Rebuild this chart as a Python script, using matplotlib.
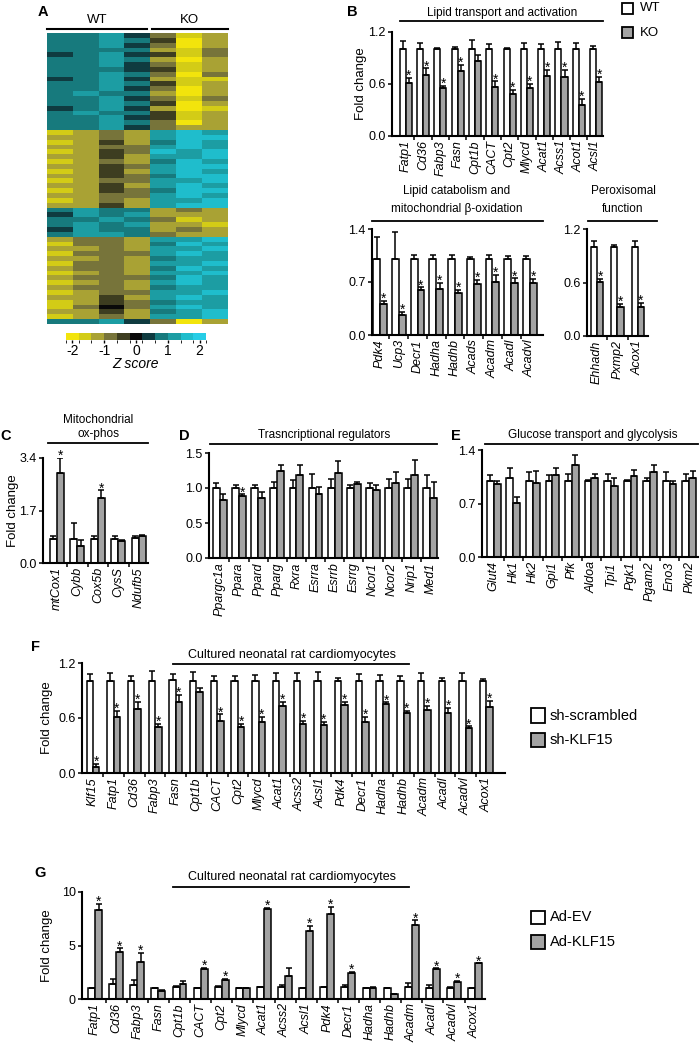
import numpy as np
import matplotlib
matplotlib.use('Agg')
import matplotlib.pyplot as plt
from matplotlib.colors import ListedColormap, BoundaryNorm
from matplotlib.cm import ScalarMappable
from matplotlib.patches import Rectangle
from matplotlib.lines import Line2D

plt.rcParams['font.family'] = ['Liberation Sans', 'DejaVu Sans']

W, H = 700, 1046
GREY = '#a3a3a3'

# ---------------- A: heatmap (z-score levels 0..10 -> -2..2) ----------------
heat_rows = [
    "7786312", "7787402", "7786302", "7777213", "6786413", "7787202", "7786312",
    "7776412", "7787303", "6786211", "7787412", "7786302", "7877202", "7786313",
    "7787402", "6786201", "7877412", "7786412", "7787302", "7786322",
    "1232898", "2232899", "1242798", "2233898", "1243989", "2242889", "1232798",
    "2243899", "1242898", "2243799", "1233889", "2242898", "1243799", "2233898",
    "1232889", "2242899",
    "7877232", "6878222", "7787312", "7878221", "6877232", "7887322",
    "2332889", "1332798", "2232889", "1333898", "2232788", "1332889", "2332798",
    "1232889", "2333798", "1232898", "2332788", "1233889", "2242898", "1243788",
    "1353898", "2242789", "1232889",
    "7786302",
]
heat_colors = ['#f2e40c', '#d3cc16', '#a9a234', '#77743a', '#3d3d20', '#0a0a0a',
               '#0f3b40', '#177a7d', '#1c9da3', '#1fbdcc', '#26cde6']
z_ticks = [-2, -1, 0, 1, 2]

# ---------------- B: KO vs WT ----------------
b1_genes = ['Fatp1', 'Cd36', 'Fabp3', 'Fasn', 'Cpt1b', 'CACT', 'Cpt2', 'Mlycd',
            'Acat1', 'Acss1', 'Acot1', 'Acsl1']
b1_wt = [1.0] * 12
b1_wt_err = [0.10, 0.07, 0.01, 0.03, 0.11, 0.06, 0.01, 0.07, 0.06, 0.08, 0.07, 0.04]
b1_ko = [0.61, 0.70, 0.55, 0.75, 0.87, 0.56, 0.49, 0.55, 0.69, 0.68, 0.36, 0.62]
b1_ko_err = [0.06, 0.08, 0.03, 0.07, 0.06, 0.07, 0.04, 0.05, 0.07, 0.08, 0.07, 0.06]
b1_stars = [0, 1, 2, 3, 5, 6, 7, 8, 9, 10, 11]

b2_genes = ['Pdk4', 'Ucp3', 'Decr1', 'Hadha', 'Hadhb', 'Acads', 'Acadm', 'Acadl', 'Acadvl']
b2_wt = [1.0] * 9
b2_wt_err = [0.29, 0.36, 0.06, 0.06, 0.06, 0.03, 0.06, 0.05, 0.05]
b2_ko = [0.41, 0.26, 0.59, 0.61, 0.55, 0.67, 0.70, 0.69, 0.69]
b2_ko_err = [0.04, 0.05, 0.04, 0.08, 0.05, 0.06, 0.09, 0.06, 0.05]
b2_stars = list(range(9))

b3_genes = ['Ehhadh', 'Pxmp2', 'Acox1']
b3_wt = [1.0, 1.0, 1.0]
b3_wt_err = [0.06, 0.02, 0.06]
b3_ko = [0.61, 0.33, 0.33]
b3_ko_err = [0.03, 0.03, 0.04]
b3_stars = [0, 1, 2]

# ---------------- C: mitochondrial ox-phos ----------------
c_genes = ['mtCox1', 'Cybb', 'Cox5b', 'CysS', 'Ndufb5']
c_wt = [0.78, 0.78, 0.78, 0.78, 0.80]
c_wt_err = [0.10, 0.50, 0.08, 0.10, 0.08]
c_ko = [2.90, 0.56, 2.12, 0.70, 0.86]
c_ko_err = [0.50, 0.19, 0.23, 0.05, 0.06]
c_stars = [0, 2]

# ---------------- D: transcriptional regulators ----------------
d_genes = ['Ppargc1a', 'Ppara', 'Ppard', 'Pparg', 'Rxra', 'Esrra', 'Esrrb', 'Esrrg',
           'Ncor1', 'Ncor2', 'Nrip1', 'Med1']
d_wt = [1.0] * 12
d_wt_err = [0.07, 0.05, 0.05, 0.08, 0.11, 0.20, 0.13, 0.05, 0.07, 0.13, 0.13, 0.19]
d_ko = [0.83, 0.88, 0.86, 1.24, 1.18, 0.91, 1.21, 1.06, 0.97, 1.07, 1.18, 0.86]
d_ko_err = [0.08, 0.03, 0.08, 0.09, 0.15, 0.11, 0.18, 0.03, 0.07, 0.16, 0.22, 0.23]
d_stars = [1]

# ---------------- E: glucose transport and glycolysis ----------------
e_genes = ['Glut4', 'Hk1', 'Hk2', 'Gpi1', 'Pfk', 'Aldoa', 'Tpi1', 'Pgk1', 'Pgam2', 'Eno3', 'Pkm2']
e_wt = [1.0, 1.03, 1.0, 1.0, 1.0, 1.0, 1.0, 1.0, 1.0, 1.0, 1.0]
e_wt_err = [0.07, 0.14, 0.11, 0.07, 0.09, 0.01, 0.09, 0.01, 0.03, 0.11, 0.08]
e_ko = [0.96, 0.71, 0.97, 1.07, 1.20, 1.03, 0.93, 1.06, 1.11, 0.95, 1.03]
e_ko_err = [0.04, 0.08, 0.15, 0.10, 0.13, 0.05, 0.10, 0.08, 0.09, 0.05, 0.09]

# ---------------- F: shRNA in cardiomyocytes ----------------
f_genes = ['Klf15', 'Fatp1', 'Cd36', 'Fabp3', 'Fasn', 'Cpt1b', 'CACT', 'Cpt2', 'Mlycd',
           'Acat1', 'Acss2', 'Acsl1', 'Pdk4', 'Decr1', 'Hadha', 'Hadhb', 'Acadm',
           'Acadl', 'Acadvl', 'Acox1']
f_ctrl = [1.0, 1.0, 1.0, 1.0, 1.01, 1.0, 1.0, 1.0, 1.0, 1.0, 1.0, 1.0, 1.0, 1.0,
          1.0, 1.0, 1.0, 1.0, 1.0, 1.0]
f_ctrl_err = [0.08, 0.09, 0.06, 0.11, 0.07, 0.10, 0.06, 0.06, 0.07, 0.09, 0.09, 0.10,
              0.04, 0.08, 0.07, 0.06, 0.09, 0.04, 0.09, 0.03]
f_sh = [0.065, 0.615, 0.70, 0.50, 0.78, 0.88, 0.57, 0.50, 0.56, 0.73, 0.53, 0.52,
        0.74, 0.56, 0.75, 0.66, 0.69, 0.66, 0.49, 0.72]
f_sh_err = [0.035, 0.065, 0.08, 0.04, 0.07, 0.05, 0.07, 0.04, 0.05, 0.05, 0.04, 0.04,
            0.04, 0.05, 0.02, 0.02, 0.04, 0.05, 0.02, 0.07]
f_stars = [i for i in range(20) if i != 5]

# ---------------- G: adenoviral overexpression ----------------
g_genes = ['Fatp1', 'Cd36', 'Fabp3', 'Fasn', 'Cpt1b', 'CACT', 'Cpt2', 'Mlycd', 'Acat1',
           'Acss2', 'Acsl1', 'Pdk4', 'Decr1', 'Hadha', 'Hadhb', 'Acadm', 'Acadl',
           'Acadvl', 'Acox1']
g_ev = [1.05, 1.37, 1.30, 1.0, 1.15, 1.0, 1.15, 1.05, 1.15, 1.15, 1.0, 1.10, 1.15,
        1.0, 1.0, 1.15, 1.05, 1.05, 1.0]
g_ev_err = [0.0, 0.46, 0.47, 0.0, 0.06, 0.0, 0.09, 0.0, 0.0, 0.15, 0.0, 0.0, 0.15,
            0.0, 0.0, 0.30, 0.25, 0.10, 0.0]
g_klf = [8.35, 4.35, 3.48, 0.78, 1.40, 2.80, 1.77, 1.05, 8.45, 2.17, 6.33, 7.90, 2.45,
         1.05, 0.43, 6.90, 2.80, 1.60, 3.32]
g_klf_err = [0.55, 0.37, 0.84, 0.06, 0.30, 0.12, 0.09, 0.0, 0.05, 0.69, 0.50, 0.70,
             0.10, 0.10, 0.0, 0.45, 0.06, 0.10, 0.0]
g_stars = [0, 1, 2, 5, 6, 8, 10, 11, 12, 15, 16, 17, 18]


fig = plt.figure(figsize=(7, 10.46), dpi=100)


def box(l, t, r, b):
    return fig.add_axes([l / W, 1 - b / H, (r - l) / W, (b - t) / H])


def put(x, y, s, **kw):
    kw.setdefault('ha', 'center')
    kw.setdefault('va', 'center')
    fig.text(x / W, 1 - y / H, s, **kw)


def hline(x0, x1, y, lw=1.3):
    fig.add_artist(Line2D([x0 / W, x1 / W], [1 - y / H, 1 - y / H], color='black', lw=lw))


def square(l, t, r, b, fc):
    fig.add_artist(Rectangle((l / W, 1 - b / H), (r - l) / W, (b - t) / H,
                             transform=fig.transFigure, fc=fc, ec='black', lw=1.3))


def bars(ax, genes, a, a_err, b, b_err, stars, width, xlim, ylim, yticks, ylabels):
    x = np.arange(len(genes))
    a = np.array(a)
    b = np.array(b)
    ax.bar(x - width / 2, a, width, color='white', edgecolor='black', lw=1.1, zorder=2)
    ax.bar(x + width / 2, b, width, color=GREY, edgecolor='black', lw=1.1, zorder=2)
    ax.errorbar(x - width / 2, a, yerr=[np.zeros(len(a)), a_err], fmt='none',
                ecolor='black', elinewidth=1.1, capsize=2, capthick=1.1, zorder=3)
    ax.errorbar(x + width / 2, b, yerr=[np.zeros(len(b)), b_err], fmt='none',
                ecolor='black', elinewidth=1.1, capsize=2, capthick=1.1, zorder=3)
    for i in stars:
        ax.annotate('*', (x[i] + width / 2, b[i] + b_err[i]), xytext=(0, -1.5),
                    textcoords='offset points', ha='center', va='baseline', fontsize=10)
    ax.set_xlim(xlim)
    ax.set_ylim(ylim)
    ax.set_yticks(yticks)
    ax.set_yticklabels(ylabels)
    ax.set_xticks(x)
    ax.set_xticklabels(genes, rotation=90, style='italic', fontsize=9)
    ax.set_xticks(x[:-1] + 0.5, minor=True)
    ax.tick_params(axis='x', which='major', length=0, pad=3)
    ax.tick_params(axis='x', which='minor', length=3, width=1.1)
    ax.tick_params(axis='y', length=3, width=1.1, labelsize=9, pad=1.5)
    for s in ['top', 'right']:
        ax.spines[s].set_visible(False)
    for s in ['left', 'bottom']:
        ax.spines[s].set_linewidth(1.5)


# ---- A ----
levels = np.array([[int(c, 16) for c in row] for row in heat_rows])
zvals = -2 + 0.4 * levels
cmap = ListedColormap(heat_colors)
norm = BoundaryNorm(np.linspace(-2.2, 2.2, 12), cmap.N)
axA = box(47, 33, 228, 324)
axA.imshow(zvals, cmap=cmap, norm=norm, aspect='auto', interpolation='nearest')
axA.axis('off')
cax = box(66, 333, 206, 340)
cb = fig.colorbar(ScalarMappable(norm=norm, cmap=cmap), cax=cax, orientation='horizontal',
                  ticks=z_ticks)
cb.set_ticklabels([str(t) for t in z_ticks])
cb.outline.set_visible(False)
cax.tick_params(length=2, width=1, labelsize=10, pad=1)
put(136, 364, 'Z score', style='italic', fontsize=10)
put(97, 20, 'WT', fontsize=9.5)
put(189, 20, 'KO', fontsize=9.5)
hline(47, 147, 29, lw=1.5)
hline(152, 228, 29, lw=1.5)

# ---- B ----
axB1 = box(392, 32, 603, 136)
bars(axB1, b1_genes, b1_wt, b1_wt_err, b1_ko, b1_ko_err, b1_stars, 0.35, (-0.8, 11.4),
     (0, 1.2), [0, 0.6, 1.2], ['0.0', '0.6', '1.2'])
axB1.set_ylabel('Fold change', fontsize=9.5, labelpad=1)
put(502, 13, 'Lipid transport and activation', fontsize=8.5)
hline(400, 603, 21)
square(622, 3, 633, 14, 'white')
square(622, 27, 633, 38, GREY)
put(640, 8, 'WT', ha='left', fontsize=9.5)
put(640, 33, 'KO', ha='left', fontsize=9.5)

axB2 = box(372, 229, 543, 335)
bars(axB2, b2_genes, b2_wt, b2_wt_err, b2_ko, b2_ko_err, b2_stars, 0.37, (-0.43, 8.7),
     (0, 1.4), [0, 0.7, 1.4], ['0.0', '0.7', '1.4'])
put(457, 191, 'Lipid catabolism and', fontsize=8.5)
put(457, 209, r'mitochondrial β-oxidation', fontsize=8.5)
hline(372, 543, 221)

axB3 = box(587, 229, 648, 336)
bars(axB3, b3_genes, b3_wt, b3_wt_err, b3_ko, b3_ko_err, b3_stars, 0.3, (-0.49, 2.5),
     (0, 1.2), [0, 0.6, 1.2], ['0.0', '0.6', '1.2'])
put(623, 191, 'Peroxisomal', fontsize=8.5)
put(623, 209, 'function', fontsize=8.5)
hline(588, 657, 221)

# ---- C ----
axC = box(43, 458, 148, 563)
bars(axC, c_genes, c_wt, c_wt_err, c_ko, c_ko_err, c_stars, 0.34, (-0.68, 4.45),
     (0, 3.4), [0, 1.7, 3.4], ['0.0', '1.7', '3.4'])
axC.set_ylabel('Fold change', fontsize=9.5, labelpad=0)
put(98, 420, 'Mitochondrial', fontsize=8.5)
put(98, 434, 'ox-phos', fontsize=8.5)
hline(48, 148, 443)

# ---- D ----
axD = box(209, 453, 438, 558)
bars(axD, d_genes, d_wt, d_wt_err, d_ko, d_ko_err, d_stars, 0.36, (-0.57, 11.4),
     (0, 1.5), [0, 0.5, 1.0, 1.5], ['0.0', '0.5', '1.0', '1.5'])
put(324, 435, 'Trasncriptional regulators', fontsize=8.5)
hline(210, 437, 444)

# ---- E ----
axE = box(482, 450, 698, 557)
bars(axE, e_genes, e_wt, e_wt_err, e_ko, e_ko_err, [], 0.35, (-0.6, 10.45),
     (0, 1.4), [0, 0.7, 1.4], ['0.0', '0.7', '1.4'])
put(593, 435, 'Glucose transport and glycolysis', fontsize=8.5)
hline(485, 698, 444)

# ---- F ----
axF = box(82, 663, 505, 773)
bars(axF, f_genes, f_ctrl, f_ctrl_err, f_sh, f_sh_err, f_stars, 0.31, (-0.53, 19.9),
     (0, 1.2), [0, 0.6, 1.2], ['0.0', '0.6', '1.2'])
axF.set_ylabel('Fold change', fontsize=9.5, labelpad=4)
put(292, 655, 'Cultured neonatal rat cardiomyocytes', fontsize=9)
hline(173, 409, 664)
square(531, 708, 545, 723, 'white')
square(531, 733, 545, 747, GREY)
put(550, 716, 'sh-scrambled', ha='left', fontsize=10.5)
put(550, 740, 'sh-KLF15', ha='left', fontsize=10.5)

# ---- G ----
axG = box(82, 892, 485, 999)
bars(axG, g_genes, g_ev, g_ev_err, g_klf, g_klf_err, g_stars, 0.33, (-0.62, 18.47),
     (0, 10), [0, 5, 10], ['0', '5', '10'])
axG.set_ylabel('Fold change', fontsize=9.5, labelpad=6)
put(292, 877, 'Cultured neonatal rat cardiomyocytes', fontsize=9)
hline(173, 409, 887)
square(531, 911, 545, 924, 'white')
square(531, 935, 545, 949, GREY)
put(550, 917, 'Ad-EV', ha='left', fontsize=10.5)
put(550, 942, 'Ad-KLF15', ha='left', fontsize=10.5)

# panel letters
for letter, (x, y) in {'A': (43, 12), 'B': (352, 12), 'C': (6, 436), 'D': (184, 436),
                       'E': (456, 436), 'F': (36, 647), 'G': (40, 873)}.items():
    put(x, y, letter, fontsize=10.5, fontweight='bold')

fig.savefig('out.png', dpi=100)
